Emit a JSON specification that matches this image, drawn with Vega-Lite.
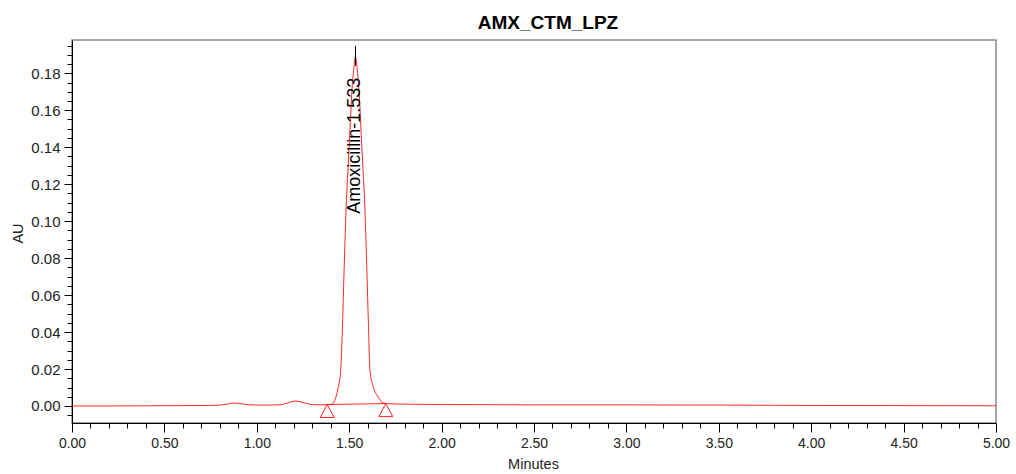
{
  "$schema": "https://vega.github.io/schema/vega-lite/v6.json",
  "width": 924,
  "height": 383,
  "autosize": {"type": "none"},
  "padding": {"left": 72, "top": 40, "right": 20, "bottom": 51},
  "background": "white",
  "config": {
    "font": "Liberation Sans",
    "view": {"stroke": "#888888", "strokeWidth": 1.5},
    "axis": {"domainColor": "#000000", "tickColor": "#000000", "labelColor": "#222222", "titleColor": "#222222", "grid": false, "labelFont": "Liberation Sans", "titleFont": "Liberation Sans"}
  },
  "title": {"text": "AMX_CTM_LPZ", "fontSize": 19, "fontWeight": "bold", "font": "Liberation Sans", "anchor": "middle", "dx": 14, "dy": 22, "baseline": "alphabetic", "offset": 13, "color": "#000000"},
  "datasets": {
    "trace": [
      {"rt": 0.0, "au": 0.0},
      {"rt": 0.2, "au": 0.0},
      {"rt": 0.4, "au": 0.0001},
      {"rt": 0.6, "au": 0.0002},
      {"rt": 0.75, "au": 0.0003},
      {"rt": 0.8, "au": 0.0005},
      {"rt": 0.84, "au": 0.0011},
      {"rt": 0.875, "au": 0.0016},
      {"rt": 0.91, "au": 0.0013},
      {"rt": 0.95, "au": 0.0007},
      {"rt": 1.0, "au": 0.0005},
      {"rt": 1.08, "au": 0.0005},
      {"rt": 1.13, "au": 0.0007},
      {"rt": 1.17, "au": 0.0018},
      {"rt": 1.208, "au": 0.0027},
      {"rt": 1.25, "au": 0.0019},
      {"rt": 1.29, "au": 0.0009},
      {"rt": 1.35, "au": 0.0006},
      {"rt": 1.4, "au": 0.0008},
      {"rt": 1.414, "au": 0.0016},
      {"rt": 1.4285, "au": 0.0049},
      {"rt": 1.441, "au": 0.0103},
      {"rt": 1.454, "au": 0.0193},
      {"rt": 1.4647, "au": 0.0469},
      {"rt": 1.471, "au": 0.0687},
      {"rt": 1.4853, "au": 0.1124},
      {"rt": 1.4945, "au": 0.13},
      {"rt": 1.5042, "au": 0.1494},
      {"rt": 1.5145, "au": 0.17},
      {"rt": 1.525, "au": 0.1825},
      {"rt": 1.534, "au": 0.189},
      {"rt": 1.543, "au": 0.1825},
      {"rt": 1.5535, "au": 0.17},
      {"rt": 1.5638, "au": 0.1494},
      {"rt": 1.5735, "au": 0.13},
      {"rt": 1.5827, "au": 0.1124},
      {"rt": 1.597, "au": 0.0687},
      {"rt": 1.6033, "au": 0.0469},
      {"rt": 1.6125, "au": 0.0193},
      {"rt": 1.6303, "au": 0.0103},
      {"rt": 1.6574, "au": 0.0049},
      {"rt": 1.684, "au": 0.0016},
      {"rt": 1.7, "au": 0.0013},
      {"rt": 1.8, "au": 0.001},
      {"rt": 2.0, "au": 0.0008},
      {"rt": 2.5, "au": 0.0006},
      {"rt": 3.0, "au": 0.0006},
      {"rt": 3.5, "au": 0.0005},
      {"rt": 4.0, "au": 0.0003},
      {"rt": 4.5, "au": 0.0002},
      {"rt": 5.0, "au": 0.0001}
    ],
    "events": [
      {"rt": 1.381, "au": 0.0008},
      {"rt": 1.698, "au": 0.0013}
    ],
    "apex": [
      {"rt": 1.534, "au": 0.1948, "au2": 0.184, "label": "Amoxicillin-1.533", "height": 0.189}
    ]
  },
  "encoding": {
    "x": {
      "field": "rt", "type": "quantitative",
      "scale": {"domain": [0, 5], "nice": false, "zero": false},
      "axis": {
        "title": "Minutes", "titleFontSize": 14.5, "titleFontWeight": "normal",
        "titleX": 461, "titleY": 41, "titleBaseline": "middle", "titleAlign": "center",
        "values": [0,0.1,0.2,0.3,0.4,0.5,0.6,0.7,0.8,0.9,1,1.1,1.2,1.3,1.4,1.5,1.6,1.7,1.8,1.9,2,2.1,2.2,2.3,2.4,2.5,2.6,2.7,2.8,2.9,3,3.1,3.2,3.3,3.4,3.5,3.6,3.7,3.8,3.9,4,4.1,4.2,4.3,4.4,4.5,4.6,4.7,4.8,4.9,5],
        "labelExpr": "abs(datum.value*2 - round(datum.value*2)) < 1e-6 ? format(datum.value, '.2f') : ''",
        "labelOverlap": false, "labelFontSize": 14, "labelPadding": 4, "labelFlush": false,
        "tickSize": {"condition": {"test": "abs(datum.value*2 - round(datum.value*2)) < 1e-6", "value": 9}, "value": 5}
      }
    },
    "y": {
      "field": "au", "type": "quantitative",
      "scale": {"domain": [-0.0092, 0.198], "nice": false, "zero": false},
      "axis": {
        "title": "AU", "titleFontSize": 14.5, "titleFontWeight": "normal",
        "titleX": -54, "titleY": 193, "titleAngle": 270, "titleBaseline": "middle", "titleAlign": "center",
        "values": [-0.005,0,0.005,0.01,0.015,0.02,0.025,0.03,0.035,0.04,0.045,0.05,0.055,0.06,0.065,0.07,0.075,0.08,0.085,0.09,0.095,0.1,0.105,0.11,0.115,0.12,0.125,0.13,0.135,0.14,0.145,0.15,0.155,0.16,0.165,0.17,0.175,0.18,0.185,0.19,0.195],
        "labelExpr": "abs(datum.value*50 - round(datum.value*50)) < 1e-6 && datum.value >= 0 ? format(datum.value, '.2f') : ''",
        "labelOverlap": false, "labelFontSize": 15, "labelPadding": 4, "labelFlush": false,
        "tickSize": {"condition": {"test": "abs(datum.value*50 - round(datum.value*50)) < 1e-6", "value": 8}, "value": 5}
      }
    }
  },
  "layer": [
    {
      "data": {"name": "trace"},
      "mark": {"type": "line", "color": "#ff0000", "strokeWidth": 1, "opacity": 0.85, "interpolate": "monotone"}
    },
    {
      "data": {"name": "events"},
      "mark": {"type": "line", "color": "#ff0000", "strokeWidth": 1, "opacity": 0.85}
    },
    {
      "data": {"name": "events"},
      "mark": {"type": "point", "shape": "M0,-0.93L1,0.93L-1,0.93Z", "size": 196, "filled": false, "stroke": "#ff0000", "strokeWidth": 1, "opacity": 0.85},
      "encoding": {"yOffset": {"value": 6.5}}
    },
    {
      "data": {"name": "apex"},
      "mark": {"type": "rule", "color": "#000000", "strokeWidth": 1},
      "encoding": {"y2": {"field": "au2"}}
    },
    {
      "data": {"name": "apex"},
      "mark": {"type": "text", "angle": 270, "align": "right", "baseline": "middle", "dx": -21, "fontSize": 18, "font": "Liberation Sans", "color": "#000000"},
      "encoding": {"y": {"field": "height", "type": "quantitative"}, "text": {"field": "label"}}
    }
  ]
}
